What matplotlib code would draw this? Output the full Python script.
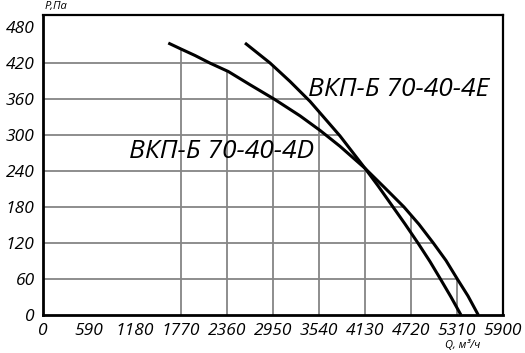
import matplotlib
matplotlib.use("Agg")
import matplotlib.pyplot as plt
from matplotlib import font_manager as fm
import numpy as np

# pick a family that actually has an italic face
_italic_fams = {f.name for f in fm.fontManager.ttflist if f.style in ('italic', 'oblique')}
FAM = 'DejaVu Sans'
for cand in ['Open Sans', 'Noto Sans', 'Lato', 'Roboto', 'Liberation Sans']:
    if cand in _italic_fams:
        FAM = cand
        break
plt.rcParams['font.family'] = [FAM, 'DejaVu Sans']
plt.rcParams['font.style'] = 'italic'

# Curve ВКП-Б 70-40-4D (flatter)
q_d = [1607, 1770, 1950, 2142, 2377, 2655, 2963, 3296, 3553, 3809, 4130,
       4386, 4630, 4822, 5006, 5169, 5314, 5451, 5583]
p_d = [453.3, 443.3, 432.5, 419.8, 405.8, 383.8, 360, 332, 307.7, 281.2, 244.5,
       211.7, 180, 151.2, 120, 90.8, 60, 31.7, 0]

# Curve ВКП-Б 70-40-4E (steeper)
q_e = [2591, 2912, 3168, 3425, 3809, 4130, 4297, 4485, 4643, 4814, 4964, 5092, 5233, 5361]
p_e = [453.3, 420, 389.3, 356, 298.5, 244.5, 215.3, 180.8, 151.7, 119, 89, 61.2, 30, 0]

x_ticks = [0, 590, 1180, 1770, 2360, 2950, 3540, 4130, 4720, 5310, 5900]
y_ticks = [0, 60, 120, 180, 240, 300, 360, 420, 480]

label_d = "ВКП-Б 70-40-4D"
label_e = "ВКП-Б 70-40-4E"

fig = plt.figure(figsize=(5.25, 3.53), dpi=100)
ax = fig.add_axes([43/525, 38/353, 460/525, 300/353])
ax.set_xlim(0, 5900)
ax.set_ylim(0, 500)

curves = [(np.array(q_d, float), np.array(p_d, float)), (np.array(q_e, float), np.array(p_e, float))]

grid_kw = dict(color='#858585', lw=1.3, zorder=1)
# horizontal grid lines, clipped at the outer curve
for p in y_ticks[1:]:
    ends = []
    for q, pp in curves:
        if pp.min() <= p <= pp.max():
            ends.append(np.interp(p, pp[::-1], q[::-1]))
    if ends:
        ax.plot([0, max(ends)], [p, p], **grid_kw)
# vertical grid lines, clipped at the curves
for x in x_ticks[1:-1]:
    tops = []
    for q, pp in curves:
        if q.min() <= x <= q.max():
            tops.append(np.interp(x, q, pp))
    if tops:
        ax.plot([x, x], [0, max(tops)], **grid_kw)

ax.plot(q_d, p_d, color='black', lw=2.2, zorder=3, solid_capstyle='butt', solid_joinstyle='round')
ax.plot(q_e, p_e, color='black', lw=2.2, zorder=3, solid_capstyle='butt', solid_joinstyle='round')

ax.text(3400, 375, label_e, fontsize=19, style='italic', ha='left', va='center', zorder=4)
ax.text(1100, 273, label_d, fontsize=19, style='italic', ha='left', va='center', zorder=4)

ax.set_xticks(x_ticks)
ax.set_yticks(y_ticks)
ax.set_xticklabels([str(v) for v in x_ticks], fontsize=12.5, style='italic')
ax.set_yticklabels([str(v) for v in y_ticks], fontsize=12.5, style='italic')
ax.tick_params(length=0, pad=6)

for s in ['left', 'bottom']:
    ax.spines[s].set_linewidth(2)
for s in ['top', 'right']:
    ax.spines[s].set_linewidth(1.6)

fig.text(45/525, 1 - 7/353, "P,Па", fontsize=8, style='italic', ha='left', va='center')
fig.text(445/525, 1 - 346/353, "Q, м³/ч", fontsize=8, style='italic', ha='left', va='center')

fig.savefig("out.png", dpi=100)
